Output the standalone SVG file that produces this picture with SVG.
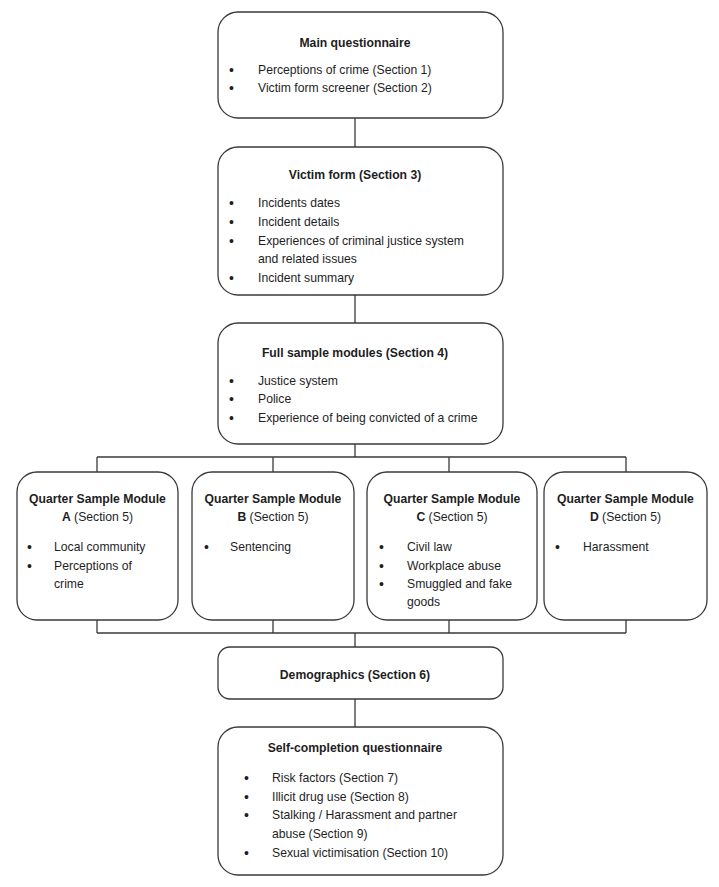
<svg xmlns="http://www.w3.org/2000/svg" width="719" height="887" viewBox="0 0 719 887">
<style>
.box{fill:#fff;stroke:#3a3a3a;stroke-width:1.3}
.ln{fill:none;stroke:#3a3a3a;stroke-width:1.3}
text{font-family:"Liberation Sans",Arial,sans-serif;font-size:12.2px;fill:#1e1e1e}
.t{font-weight:bold;text-anchor:middle}
.c{text-anchor:middle}
.b{font-size:14px}
</style>
<rect width="719" height="887" fill="#fff"/>
<g id="connectors">
<path class="ln" d="M355 118V147M355 295V323M355 444V457M97 457H626M97 457V472M273 457V472M449 457V472M626 457V472M97 620V633M273 620V633M449 620V633M626 620V633M97 633H626M355 633V647M355 699V727"/>
</g>
<g id="main">
<rect class="box" x="218" y="12" width="285" height="106" rx="20"/>
<text class="t" x="355" y="47">Main questionnaire</text>
<text class="b" x="229" y="75">•</text><text x="258" y="74">Perceptions of crime (Section 1)</text>
<text class="b" x="229" y="93">•</text><text x="258" y="92">Victim form screener (Section 2)</text>
</g>
<g id="victim">
<rect class="box" x="218" y="147" width="285" height="148" rx="20"/>
<text class="t" x="355" y="179">Victim form (Section 3)</text>
<text class="b" x="229" y="208">•</text><text x="258" y="207">Incidents dates</text>
<text class="b" x="229" y="227">•</text><text x="258" y="226">Incident details</text>
<text class="b" x="229" y="246">•</text><text x="258" y="245">Experiences of criminal justice system</text>
<text x="258" y="263">and related issues</text>
<text class="b" x="229" y="283">•</text><text x="258" y="282">Incident summary</text>
</g>
<g id="full">
<rect class="box" x="218" y="323" width="285" height="121" rx="20"/>
<text class="t" x="355" y="357">Full sample modules (Section 4)</text>
<text class="b" x="229" y="386">•</text><text x="258" y="385">Justice system</text>
<text class="b" x="229" y="404">•</text><text x="258" y="403">Police</text>
<text class="b" x="229" y="423">•</text><text x="258" y="422">Experience of being convicted of a crime</text>
</g>
<g id="qa">
<rect class="box" x="17" y="472" width="161" height="148" rx="20"/>
<text class="t" x="97.5" y="503">Quarter Sample Module</text>
<text class="c" x="97.5" y="521"><tspan font-weight="bold">A</tspan> (Section 5)</text>
<text class="b" x="27" y="552">•</text><text x="54" y="551">Local community</text>
<text class="b" x="27" y="571">•</text><text x="54" y="570">Perceptions of</text>
<text x="54" y="588">crime</text>
</g>
<g id="qb">
<rect class="box" x="192" y="472" width="162" height="148" rx="20"/>
<text class="t" x="273" y="503">Quarter Sample Module</text>
<text class="c" x="273" y="521"><tspan font-weight="bold">B</tspan> (Section 5)</text>
<text class="b" x="204" y="552">•</text><text x="230" y="551">Sentencing</text>
</g>
<g id="qc">
<rect class="box" x="367" y="472" width="170" height="148" rx="20"/>
<text class="t" x="452" y="503">Quarter Sample Module</text>
<text class="c" x="452" y="521"><tspan font-weight="bold">C</tspan> (Section 5)</text>
<text class="b" x="379" y="552">•</text><text x="407" y="551">Civil law</text>
<text class="b" x="379" y="571">•</text><text x="407" y="570">Workplace abuse</text>
<text class="b" x="379" y="589">•</text><text x="407" y="588">Smuggled and fake</text>
<text x="407" y="606">goods</text>
</g>
<g id="qd">
<rect class="box" x="544" y="472" width="163" height="148" rx="20"/>
<text class="t" x="625.5" y="503">Quarter Sample Module</text>
<text class="c" x="625.5" y="521"><tspan font-weight="bold">D</tspan> (Section 5)</text>
<text class="b" x="555" y="552">•</text><text x="583" y="551">Harassment</text>
</g>
<g id="demo">
<rect class="box" x="218" y="647" width="285" height="52" rx="12"/>
<text class="t" x="355" y="679">Demographics (Section 6)</text>
</g>
<g id="self">
<rect class="box" x="218" y="727" width="285" height="148" rx="20"/>
<text class="t" x="355" y="752">Self-completion questionnaire</text>
<text class="b" x="244" y="783">•</text><text x="272" y="782">Risk factors (Section 7)</text>
<text class="b" x="244" y="802">•</text><text x="272" y="801">Illicit drug use (Section 8)</text>
<text class="b" x="244" y="820">•</text><text x="272" y="819">Stalking / Harassment and partner</text>
<text x="272" y="838">abuse (Section 9)</text>
<text class="b" x="244" y="858">•</text><text x="272" y="857">Sexual victimisation (Section 10)</text>
</g>
</svg>
